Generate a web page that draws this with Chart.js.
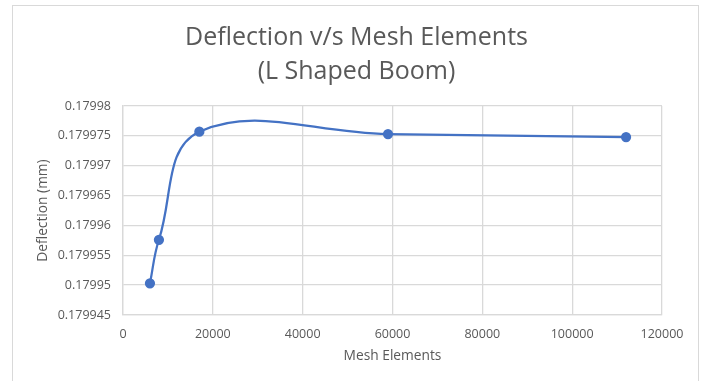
<!DOCTYPE html>
<html>
<head>
<meta charset="utf-8">
<script src="https://cdn.jsdelivr.net/npm/chart.js@4.4.1/dist/chart.umd.min.js"></script>
<style>
  html, body { margin: 0; padding: 0; background: #ffffff; }
  #wrap { position: relative; width: 702px; height: 381px; overflow: hidden; }
  #frame { position: absolute; left: 12px; top: 5px; width: 687px; height: 390px;
           border: 1.5px solid #d9d9d9; box-sizing: border-box; pointer-events: none; }
  canvas { position: absolute; left: 0; top: 0; }
</style>
</head>
<body>
<div id="wrap">
  <canvas id="chart" width="702" height="381"></canvas>
  <div id="frame"></div>
</div>
<script>
// Mesh refinement study: number of elements vs. tip deflection
const meshElements = [6000, 8000, 17000, 59000, 112000];
const deflection = [0.1799503, 0.1799576, 0.1799757, 0.1799753, 0.1799748];

const xTicks = [0, 20000, 40000, 60000, 80000, 100000, 120000];
const yTicks = [0.179945, 0.17995, 0.179955, 0.17996, 0.179965, 0.17997, 0.179975, 0.17998];

const titleLines = ['Deflection v/s Mesh Elements', '(L Shaped Boom)'];
const xTitle = 'Mesh Elements';
const yTitle = 'Deflection (mm)';

const FONT = '"Open Sans", "Liberation Sans", sans-serif';
const TEXT = '#595959';
const GRID = '#d9d9d9';
const BLUE = '#4472c4';

// Center the title on the whole framed chart rather than on the padded box
const centerTitle = {
  id: 'centerTitle',
  afterLayout(chart) {
    if (chart.titleBlock) {
      chart.titleBlock.left = 12;
      chart.titleBlock.right = 701;
    }
  }
};

new Chart(document.getElementById('chart'), {
  type: 'scatter',
  data: {
    datasets: [{
      data: meshElements.map((x, i) => ({ x, y: deflection[i] })),
      showLine: true,
      borderColor: BLUE,
      backgroundColor: BLUE,
      borderWidth: 2.25,
      pointRadius: 4,
      pointHoverRadius: 4,
      tension: 0.4
    }]
  },
  plugins: [centerTitle],
  options: {
    responsive: false,
    animation: false,
    layout: { padding: { left: 31, right: 40, top: 4, bottom: 13 } },
    plugins: {
      legend: { display: false },
      tooltip: { enabled: false },
      title: {
        display: true,
        text: titleLines,
        color: TEXT,
        font: { family: FONT, size: 25, weight: 'normal', lineHeight: 1.36 },
        padding: { top: 17, bottom: 17 }
      }
    },
    scales: {
      x: {
        type: 'linear',
        min: 0,
        max: 120000,
        afterBuildTicks: s => { s.ticks = xTicks.map(v => ({ value: v })); },
        afterFit: s => { s.height = 53; },
        grid: { color: GRID, lineWidth: 1.3, drawTicks: false },
        border: { color: GRID, width: 1.3 },
        ticks: {
          color: TEXT, padding: 12,
          font: { family: FONT, size: 12.5 },
          callback: v => String(v)
        },
        title: {
          display: true, text: xTitle, color: TEXT,
          font: { family: FONT, size: 13.75 },
          padding: { top: 4, bottom: 4 }
        }
      },
      y: {
        type: 'linear',
        min: 0.179945,
        max: 0.17998,
        afterBuildTicks: s => { s.ticks = yTicks.map(v => ({ value: v })); },
        afterFit: s => { s.width = 92; },
        grid: { color: GRID, lineWidth: 1.3, drawTicks: false },
        border: { color: GRID, width: 1.3 },
        ticks: {
          color: TEXT, padding: 12,
          font: { family: FONT, size: 12.5 },
          callback: v => String(Number(v.toFixed(6)))
        },
        title: {
          display: true, text: yTitle, color: TEXT,
          font: { family: FONT, size: 13.75 },
          padding: { top: 4, bottom: 4 }
        }
      }
    }
  }
});
</script>
</body>
</html>
